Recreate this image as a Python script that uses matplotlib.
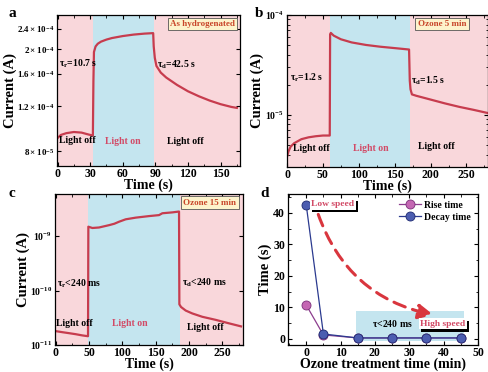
import numpy as np
import matplotlib.pyplot as plt
from matplotlib.ticker import FixedLocator, NullLocator, MultipleLocator, LogLocator

plt.rcParams['font.family'] = ['Liberation Serif', 'DejaVu Serif']
plt.rcParams['font.weight'] = 'bold'
plt.rcParams['axes.labelweight'] = 'bold'
plt.rcParams['mathtext.fontset'] = 'custom'
plt.rcParams['mathtext.rm'] = 'Liberation Serif:bold'
plt.rcParams['mathtext.it'] = 'Liberation Serif:bold'
plt.rcParams['mathtext.bf'] = 'Liberation Serif:bold'

# ---- data ----
# a: as hydrogenated
t_a = [0, 3, 8, 15, 22, 28, 32.5, 33, 33.5, 35, 37, 40, 45, 50, 60, 70, 80, 88,
       88.5, 89.5, 91, 95, 100, 110, 120, 130, 140, 150, 160, 165]
i_a = [9.0e-5, 9.25e-5, 9.4e-5, 9.5e-5, 9.45e-5, 9.3e-5, 9.2e-5, 1.5e-4, 1.95e-4, 2.05e-4,
       2.1e-4, 2.14e-4, 2.18e-4, 2.21e-4, 2.25e-4, 2.28e-4, 2.3e-4, 2.31e-4,
       2.05e-4, 1.85e-4, 1.72e-4, 1.62e-4, 1.55e-4, 1.45e-4, 1.37e-4, 1.31e-4, 1.26e-4,
       1.22e-4, 1.19e-4, 1.18e-4]
on_a = (33, 88.5)

# b: ozone 5 min
t_b = [0, 2, 5, 10, 20, 30, 40, 50, 59.5, 60, 61, 65, 75, 90, 110, 130, 150, 170,
       171, 172, 174, 180, 200, 220, 240, 260, 280]
i_b = [3.8e-6, 4.3e-6, 4.8e-6, 5.2e-6, 5.7e-6, 5.95e-6, 6.1e-6, 6.2e-6, 6.2e-6, 6.4e-5,
       6.6e-5, 6.2e-5, 5.7e-5, 5.3e-5, 5.0e-5, 4.8e-5, 4.65e-5, 4.5e-5,
       2.2e-5, 1.8e-5, 1.6e-5, 1.55e-5, 1.42e-5, 1.3e-5, 1.2e-5, 1.12e-5, 1.04e-5]
on_b = (60, 171)

# c: ozone 15 min
t_c = [0, 10, 20, 30, 40, 48.5, 49, 55, 65, 80, 88, 95, 105, 120, 140, 155, 160, 175, 185,
       185.5, 188, 195, 205, 220, 240, 260, 278]
i_c = [1.8e-11, 1.72e-11, 1.65e-11, 1.58e-11, 1.5e-11, 1.45e-11, 1.5e-9, 1.42e-9, 1.45e-9,
       1.6e-9, 1.7e-9, 1.85e-9, 2.05e-9, 2.2e-9, 2.35e-9, 2.45e-9, 2.65e-9, 2.75e-9, 2.85e-9,
       5.6e-11, 5.0e-11, 4.3e-11, 3.8e-11, 3.3e-11, 2.9e-11, 2.5e-11, 2.2e-11]
on_c = (49, 187)

# d: response times
ozone_time = [0, 5, 15, 25, 35, 45]
rise_time = [10.7, 1.2, 0.24, 0.24, 0.24, 0.24]
decay_time = [42.5, 1.5, 0.24, 0.24, 0.24, 0.24]

pink = '#f9d7db'
cyan = '#c4e5ef'
line_c = '#c73c4e'
red_txt = '#d24a66'
box_txt = '#c8452a'

fig = plt.figure(figsize=(4.89, 3.72), dpi=100)
ax_a = fig.add_axes([0.1166, 0.5538, 0.3744, 0.406])
ax_b = fig.add_axes([0.587, 0.551, 0.411, 0.409])
ax_c = fig.add_axes([0.1125, 0.0726, 0.3845, 0.406])
ax_d = fig.add_axes([0.589, 0.0726, 0.3885, 0.406])


def style(ax):
    ax.tick_params(direction='in', which='both', top=True, right=True, labelsize=8.5)
    ax.tick_params(which='major', length=3, width=0.8)
    ax.tick_params(which='minor', length=1.8, width=0.6)
    ax.tick_params(axis='x', pad=1.5)
    ax.tick_params(axis='y', pad=2)
    for s in ax.spines.values():
        s.set_linewidth(0.9)


def background(ax, on, xmax):
    ax.axvspan(-10, on[0], color=pink, lw=0, zorder=0)
    ax.axvspan(on[0], on[1], color=cyan, lw=0, zorder=0)
    ax.axvspan(on[1], xmax + 10, color=pink, lw=0, zorder=0)


def label_box(ax, x, y, txt):
    ax.text(x, y, txt, transform=ax.transAxes, ha='center', va='center', fontsize=6.5,
            color=box_txt, fontweight='bold',
            bbox=dict(boxstyle='square,pad=0.25', fc='#fdf3cc', ec='#555555', lw=0.6))


def light_texts(ax, pos):
    (x1, y1), (x2, y2), (x3, y3) = pos
    ax.text(x1, y1, 'Light off', transform=ax.transAxes, ha='left', va='center', fontsize=7)
    ax.text(x2, y2, 'Light on', transform=ax.transAxes, ha='center', va='center', fontsize=7,
            color=red_txt)
    ax.text(x3, y3, 'Light off', transform=ax.transAxes, ha='center', va='center', fontsize=7)


# panel a
style(ax_a)
background(ax_a, on_a, 170)
ax_a.plot(t_a, i_a, color=line_c, lw=1.6)
ax_a.set_yscale('log')
ax_a.set_xlim(-0.5, 168)
ax_a.set_ylim(7e-5, 2.72e-4)
ax_a.yaxis.set_major_locator(FixedLocator([8e-5, 1.2e-4, 1.6e-4, 2e-4, 2.4e-4]))
ax_a.yaxis.set_minor_locator(NullLocator())
ax_a.set_yticklabels([r'$8\times10^{-5}$', r'$1.2\times10^{-4}$', r'$1.6\times10^{-4}$',
                      r'$2\times10^{-4}$', r'$2.4\times10^{-4}$'], fontsize=6.5)
ax_a.xaxis.set_major_locator(MultipleLocator(30))
ax_a.xaxis.set_minor_locator(MultipleLocator(15))
ax_a.set_xlabel('Time (s)', fontsize=10, labelpad=-1)
ax_a.set_ylabel('Current (A)', fontsize=10.5, labelpad=0)
ax_a.text(0.009, 0.675, r'$\tau_r$=10.7 s', transform=ax_a.transAxes, fontsize=7, va='center')
ax_a.text(0.545, 0.67, r'$\tau_d$=42.5 s', transform=ax_a.transAxes, fontsize=7, va='center')
light_texts(ax_a, [(0.01, 0.168), (0.36, 0.165), (0.70, 0.165)])
label_box(ax_a, 0.795, 0.94, 'As hydrogenated')

# panel b
style(ax_b)
background(ax_b, on_b, 280)
ax_b.plot(t_b, i_b, color=line_c, lw=1.6)
ax_b.set_yscale('log')
ax_b.set_xlim(0, 280)
ax_b.set_ylim(3e-6, 1e-4)
ax_b.yaxis.set_major_locator(FixedLocator([1e-5, 1e-4]))
ax_b.yaxis.set_minor_locator(LogLocator(subs=np.arange(2, 10)))
ax_b.yaxis.set_minor_formatter(plt.NullFormatter())
ax_b.set_yticklabels([r'$10^{-5}$', r'$10^{-4}$'], fontsize=7)
ax_b.xaxis.set_major_locator(MultipleLocator(50))
ax_b.xaxis.set_minor_locator(MultipleLocator(25))
ax_b.set_xlabel('Time (s)', fontsize=10, labelpad=-1)
ax_b.set_ylabel('Current (A)', fontsize=10.5, labelpad=1)
ax_b.text(0.017, 0.59, r'$\tau_r$=1.2 s', transform=ax_b.transAxes, fontsize=7, va='center')
ax_b.text(0.617, 0.565, r'$\tau_d$=1.5 s', transform=ax_b.transAxes, fontsize=7, va='center')
light_texts(ax_b, [(0.03, 0.121), (0.415, 0.121), (0.741, 0.132)])
label_box(ax_b, 0.771, 0.94, 'Ozone 5 min')

# panel c
style(ax_c)
background(ax_c, on_c, 280)
ax_c.plot(t_c, i_c, color=line_c, lw=1.6)
ax_c.set_yscale('log')
ax_c.set_xlim(-1, 281)
ax_c.set_ylim(1e-11, 6e-9)
ax_c.yaxis.set_major_locator(FixedLocator([1e-11, 1e-10, 1e-9]))
ax_c.yaxis.set_minor_locator(NullLocator())
ax_c.set_yticklabels([r'$10^{-11}$', r'$10^{-10}$', r'$10^{-9}$'], fontsize=7)
ax_c.xaxis.set_major_locator(MultipleLocator(50))
ax_c.xaxis.set_minor_locator(MultipleLocator(25))
ax_c.set_xlabel('Time (s)', fontsize=10, labelpad=-1)
ax_c.set_ylabel('Current (A)', fontsize=10.5, labelpad=0)
ax_c.text(0.009, 0.405, r'$\tau_r$<240 ms', transform=ax_c.transAxes, fontsize=7, va='center')
ax_c.text(0.673, 0.409, r'$\tau_d$<240 ms', transform=ax_c.transAxes, fontsize=7, va='center')
light_texts(ax_c, [(0.005, 0.141), (0.398, 0.145), (0.80, 0.119)])
label_box(ax_c, 0.823, 0.942, 'Ozone 15 min')

# panel d
style(ax_d)
ax_d.axvspan(14.5, 46, ymin=(-0.6 + 2) / 48, ymax=(8.8 + 2) / 48, color=cyan, lw=0, zorder=0)
ax_d.plot(ozone_time, rise_time, '-o', color='#8c3d8e', lw=0.9, ms=6.5,
          mfc='#c467b3', mec='#7a2f7a', mew=0.6, label='Rise time', zorder=3)
ax_d.plot(ozone_time, decay_time, '-o', color='#2b3a8f', lw=0.9, ms=6.5,
          mfc='#4c5db0', mec='#1e2a70', mew=0.6, label='Decay time', zorder=4)
ax_d.set_xlim(-5.3, 50)
ax_d.set_ylim(-2, 46)
ax_d.xaxis.set_major_locator(MultipleLocator(10))
ax_d.xaxis.set_minor_locator(MultipleLocator(5))
ax_d.yaxis.set_major_locator(MultipleLocator(10))
ax_d.yaxis.set_minor_locator(MultipleLocator(5))
ax_d.set_xlabel('Ozone treatment time (min)', fontsize=10, labelpad=-1)
ax_d.set_ylabel('Time (s)', fontsize=10.5, labelpad=1)
ax_d.legend(loc='upper right', frameon=False, fontsize=7, handlelength=2.2,
            borderaxespad=0.3, labelspacing=0.3, handletextpad=0.4)
ax_d.annotate('', xy=(37, 7.6), xytext=(3.5, 39.5),
              arrowprops=dict(arrowstyle='-|>,head_length=0.9,head_width=0.45', color='#d9363e',
                              lw=2.2, ls=(0, (4, 2.5)), connectionstyle='arc3,rad=0.28',
                              shrinkA=0, shrinkB=0))


def speed_box(x, y, txt):
    for dx, fc, tc, z in [(1.6, 'black', 'black', 5), (0, 'white', red_txt, 6)]:
        ax_d.annotate(txt, xy=(x, y), xytext=(dx, -dx), textcoords='offset points',
                      ha='center', va='center', fontsize=6.8, color=tc, zorder=z,
                      bbox=dict(boxstyle='square,pad=0.15', fc=fc, ec='none'))


speed_box(7.8, 42.7, 'Low speed')
speed_box(39.8, 4.7, 'High speed')
ax_d.text(25.0, 4.7, r'$\tau$<240 ms', fontsize=7, ha='center', va='center')

# panel letters
for x, y, s in [(0.018, 0.965, 'a'), (0.522, 0.965, 'b'), (0.018, 0.48, 'c'), (0.533, 0.48, 'd')]:
    fig.text(x, y, s, fontsize=11, fontweight='bold', va='center')

fig.savefig('out.png', dpi=100)
